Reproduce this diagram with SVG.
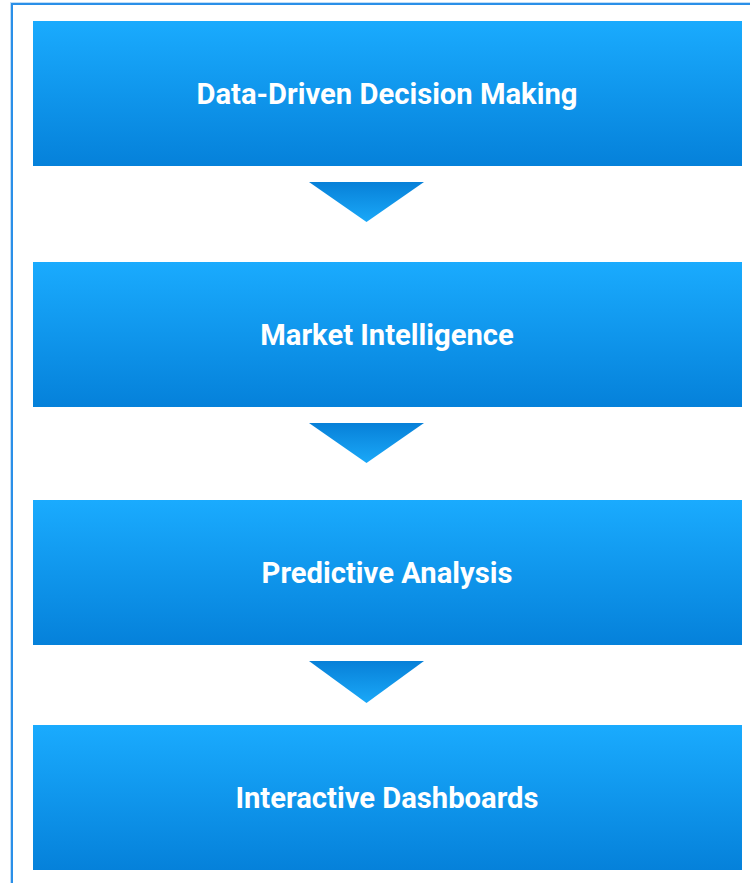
<svg xmlns="http://www.w3.org/2000/svg" width="750" height="883" viewBox="0 0 750 883">
<defs>
<linearGradient id="boxg" x1="0" y1="0" x2="0" y2="1">
<stop offset="0" stop-color="#1AABFE"/>
<stop offset="1" stop-color="#0581DA"/>
</linearGradient>
<linearGradient id="arrg" x1="0" y1="0" x2="0" y2="1">
<stop offset="0" stop-color="#0780D8"/>
<stop offset="1" stop-color="#1AA8F8"/>
</linearGradient>
<style>
.box{fill:url(#boxg);}
.arr{fill:url(#arrg);}
.lbl{font-family:Roboto,"Liberation Sans",sans-serif;font-weight:bold;font-size:29.2px;fill:#FFFFFF;text-anchor:middle;dominant-baseline:central;}
</style>
</defs>
<rect x="0" y="0" width="750" height="883" fill="#FFFFFF"/>
<rect x="12" y="4" width="800" height="900" fill="none" stroke="#2A8FE8" stroke-width="2"/>
<rect x="10.5" y="2.5" width="800" height="900" fill="none" stroke="#BFDDF7" stroke-width="1"/>
<g id="connectors">
<polygon class="arr" points="309,182 424,182 366.5,222"/>
<polygon class="arr" points="309,423 424,423 366.5,463"/>
<polygon class="arr" points="309,661 424,661 366.5,703"/>
</g>
<g id="node1">
<rect class="box" x="33" y="21" width="709" height="145"/>
<text class="lbl" x="387" y="94">Data-Driven Decision Making</text>
</g>
<g id="node2">
<rect class="box" x="33" y="262" width="709" height="145"/>
<text class="lbl" x="387" y="335">Market Intelligence</text>
</g>
<g id="node3">
<rect class="box" x="33" y="500" width="709" height="145"/>
<text class="lbl" x="387" y="573">Predictive Analysis</text>
</g>
<g id="node4">
<rect class="box" x="33" y="725" width="709" height="145"/>
<text class="lbl" x="387" y="798">Interactive Dashboards</text>
</g>
</svg>
